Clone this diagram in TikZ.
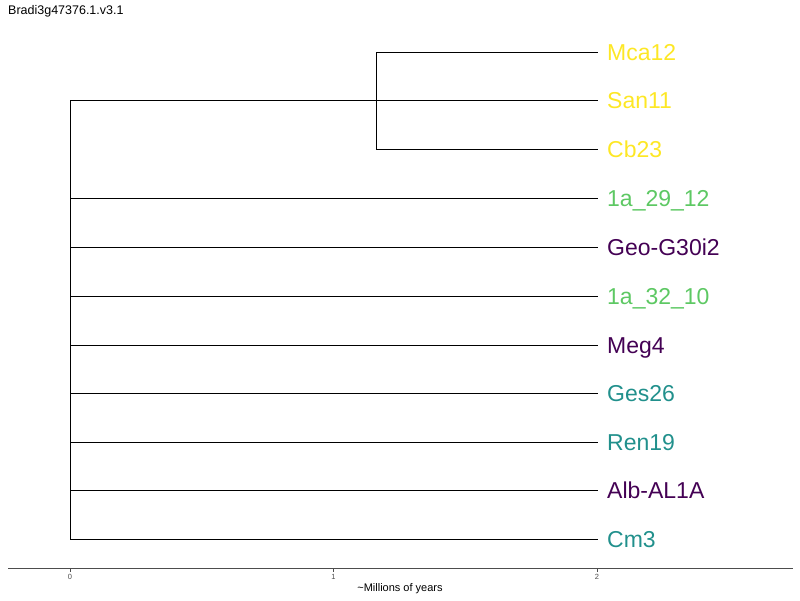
\documentclass[tikz,border=0pt]{standalone}
\usepackage{fontspec}
\setmainfont{Liberation Sans}
\usepackage{tikz}
\usetikzlibrary{calc}
\definecolor{vyellow}{HTML}{FDE725}
\definecolor{vgreen}{HTML}{5DC863}
\definecolor{vpurple}{HTML}{440154}
\definecolor{vteal}{HTML}{21908C}
\definecolor{axisgrey}{HTML}{4D4D4D}
\tikzstyle{leaf} = [anchor=west, inner xsep=9pt, inner ysep=0pt, text height=16.5pt, text depth=0pt, font=\fontsize{23}{25}\selectfont]
\tikzstyle{branch} = [line width=0.8pt, black]
\tikzstyle{axisline} = [line width=1.2pt, axisgrey]
\tikzstyle{ticklabel} = [axisgrey, font=\fontsize{7.5}{8}\selectfont]

\begin{document}
\begin{tikzpicture}[x=1pt, y=-1pt]
        \useasboundingbox (0,0) rectangle (800,600);
        \node [anchor=base west, inner sep=0pt, font=\fontsize{12.5}{14}\selectfont] (title) at (8,14) {Bradi3g47376.1.v3.1};

        % leaves
        \node (mca12) [leaf, vyellow] at (598,52) {Mca12};
        \node (san11) [leaf, vyellow] at (598,100) {San11};
        \node (cb23) [leaf, vyellow] at (598,149) {Cb23};
        \node (la29) [leaf, vgreen] at (598,198) {1a\_29\_12};
        \node (geo) [leaf, vpurple] at (598,247) {Geo-G30i2};
        \node (la32) [leaf, vgreen] at (598,296) {1a\_32\_10};
        \node (meg4) [leaf, vpurple] at (598,345) {Meg4};
        \node (ges26) [leaf, vteal] at (598,393) {Ges26};
        \node (ren19) [leaf, vteal] at (598,442) {Ren19};
        \node (alb) [leaf, vpurple] at (598,490) {Alb-AL1A};
        \node (cm3) [leaf, vteal] at (598,539) {Cm3};

        % inner nodes
        \coordinate (root) at (70,100);
        \coordinate (clade) at (376,100);

        \draw [branch] (root) -- (clade);
        \draw [branch] (clade) |- (mca12.west);
        \draw [branch] (clade) |- (cb23.west);
        \draw [branch] (clade) -- (san11.west);
        \draw [branch] (root) |- (cm3.west);
        \foreach \t in {la29, geo, la32, meg4, ges26, ren19, alb}
            \draw [branch] (root |- \t.west) -- (\t.west);

        % time axis
        \coordinate (axl) at (8,568.5);
        \coordinate (axr) at (793,568.5);
        \draw [axisline] (axl) -- (axr);
        \foreach \v/\x in {0/70, 1/333.5, 2/597}{
            \draw [axisgrey, line width=0.6pt] (\x,568.5) -- (\x,572);
            \node (tick\v) [ticklabel] at (\x,577) {\v};
        }
        \node (axtitle) [font=\fontsize{11}{12}\selectfont] at (400,589) {\textasciitilde Millions of years};
    \end{tikzpicture}
\end{document}
